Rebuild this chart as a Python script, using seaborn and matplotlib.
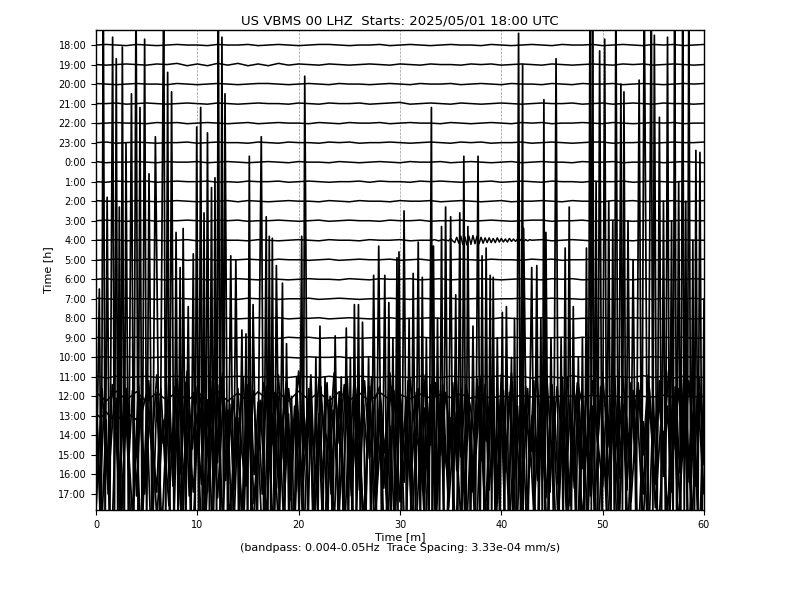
import numpy as np
import pandas as pd
import matplotlib
matplotlib.use("Agg")
import matplotlib.pyplot as plt
import seaborn as sns

# --- data ---
HOUR_LABELS = ["18:00", "19:00", "20:00", "21:00", "22:00", "23:00",
               "0:00", "1:00", "2:00", "3:00", "4:00", "5:00", "6:00",
               "7:00", "8:00", "9:00", "10:00", "11:00", "12:00", "13:00",
               "14:00", "15:00", "16:00", "17:00"]

# quiet rows, one value per minute (0..60), unit = QUIET_UNIT trace spacing
QUIET_UNIT = 0.03
TR_1800 = [0,1,0,-1,1,0,-1,0,1,0, 0,-1,1,0,0,1,-1,0,1,0, -1,0,1,1,0,-1,0,0,1,-1, 0,1,0,-1,0,1,0,0,-1,1, 0,-1,0,1,0,-1,1,0,0,1, -1,0,1,0,-1,1,0,1,-1,0, 1]
TR_1900 = [0,-1,0,1,0,-1,1,0,2,-2, 1,-2,2,-1,2,-2,1,-2,2,-1, 1,0,-1,1,0,-1,0,1,0,-1, 1,0,-1,1,0,0,-1,1,0,1, -1,0,1,0,-1,1,0,-1,0,1, 0,-1,1,0,1,-1,0,1,0,-1, 0]
TR_2000 = [1,0,-1,0,1,0,0,-1,1,0, -1,0,1,0,-1,0,1,1,0,-1, 0,1,0,-1,1,0,0,-1,0,1, 0,-1,1,0,0,1,-1,0,1,0, -1,1,0,0,-1,1,0,-1,1,0, 0,1,-1,0,1,0,-1,0,1,0, 1]
TR_2100 = [0,0,1,-1,0,1,0,-1,0,1, 0,-1,1,0,-1,0,1,0,0,-1, 1,0,-1,1,0,0,1,-1,0,1, 2,-1,0,1,0,-1,1,0,-1,0, 1,0,-1,0,1,0,0,1,-1,0, 1,-1,0,1,0,-1,1,0,0,-1, 0]
TR_2200 = [-1,0,1,0,0,-1,1,0,1,-1, 0,1,0,-1,0,1,-1,0,1,0, 0,-1,1,0,-1,1,0,0,1,-1, 0,1,0,0,-1,1,0,-1,0,1, 0,-1,1,0,1,-1,0,0,1,0, -1,1,0,-1,0,1,0,1,-1,0, 0]
TR_2300 = [0,1,-1,0,1,0,-1,0,0,1, -1,0,1,0,0,-1,1,0,-1,1, 0,0,-1,1,0,1,-1,0,0,1, 0,-1,0,1,0,-1,1,0,1,-1, 0,0,1,-1,0,1,0,-1,0,1, 1,-1,0,0,1,-1,0,1,0,0, 1]
TR_0000 = [1,-1,0,0,1,0,-1,1,0,0, 1,-1,0,1,0,-1,0,1,0,-1, 1,0,0,-1,1,0,-1,0,1,0, -1,1,0,0,1,-1,0,1,0,-1, 0,1,-1,0,1,0,0,-1,1,0, 0,1,-1,0,0,1,-1,0,1,0, -1]
TR_0100 = [0,-1,1,0,0,1,-1,0,1,0, 0,1,-1,0,-1,1,0,0,1,-1, 0,1,0,-1,0,0,1,-1,1,0, 0,-1,1,0,1,0,-1,0,0,1, -1,0,1,0,-1,1,0,0,-1,1, 0,0,1,-1,0,1,0,-1,1,0, 0]
TR_0200 = [1,0,0,-1,1,0,-1,0,1,0, -1,0,0,1,-1,1,0,-1,0,1, 0,0,-1,1,0,-1,1,0,0,-1, 1,0,0,1,-1,0,1,0,-1,0, 1,-1,0,0,1,0,-1,1,0,0, -1,1,0,1,-1,0,0,1,-1,0, 1]
TR_0300 = [0,1,0,-1,0,1,-1,0,0,1, 0,-1,1,0,1,-1,0,0,1,0, -1,0,1,-1,0,1,0,0,-1,1, 0,0,1,-1,0,0,1,-1,0,1, 0,-1,0,1,1,-1,0,0,1,-1, 0,1,0,-1,0,1,-1,0,1,0, 0]
TR_0400 = [0,0,1,-1,0,1,0,-1,0,1, -1,0,1,0,0,-1,1,0,-1,0, 1,0,-1,1,0,0,-1,1,0,0, 1,-1,0,1,0,0,0,0,0,0, 0,0,0,0,1,-1,0,1,0,-1, 1,0,0,-1,1,0,-1,0,1,0, 0]
TR_0500 = [-1,0,1,0,-1,1,0,0,1,-1, 0,1,-1,0,0,1,0,-1,1,0, 0,-1,0,1,-1,0,1,0,0,1, -1,0,1,-1,0,0,1,0,-1,1, 0,0,-1,1,0,1,-1,0,0,1, 0,-1,1,0,0,-1,1,0,-1,0, 1]
TR_0600 = [0,1,-1,0,1,0,0,-1,1,0, 1,-1,0,0,1,0,-1,1,0,-1, 0,1,0,0,-1,1,0,-1,1,0, 0,1,-1,0,1,-1,0,0,1,0, -1,0,1,0,-1,1,0,1,-1,0, 0,1,0,-1,1,0,0,-1,0,1, 0]
TR_0700 = [1,0,-1,1,0,0,-1,0,1,0, -1,1,0,0,-1,1,0,1,-1,0, 0,1,-1,0,1,0,-1,0,0,1, 0,-1,1,0,0,1,-1,0,1,-1, 0,0,1,-1,0,1,0,0,-1,1, 0,-1,0,1,0,-1,1,0,0,1, -1]
TR_0800 = [0,-1,0,1,0,1,-1,0,0,1, 0,-1,1,0,-1,0,1,0,1,-1, 0,0,1,-1,0,1,0,-1,0,1, -1,0,0,1,0,-1,1,0,0,-1, 1,0,-1,0,1,0,1,-1,0,0, 1,-1,0,1,0,0,-1,1,0,-1, 0]
TR_0900 = [1,-1,0,0,1,-1,0,1,0,0, -1,1,0,-1,0,1,0,0,-1,1, 0,1,-1,0,0,1,-1,0,1,0, 0,-1,1,0,1,-1,0,0,1,-1, 0,1,0,-1,0,0,1,-1,1,0, -1,0,1,0,0,-1,1,0,1,-1, 0]
TR_1000 = [0,1,-1,1,0,-1,0,1,0,-1, 1,0,0,-1,1,0,-1,1,0,0, -1,1,0,0,1,-1,0,1,-1,0, 1,0,-1,0,1,0,-1,1,0,0, 1,-1,0,1,0,-1,0,1,1,-1, 0,0,1,-1,0,1,0,-1,0,1, 0]
TR_1100 = [2,-2,1,-1,0,1,-1,0,1,-1, 0,1,-1,0,1,0,-1,1,0,-1, 1,0,-1,1,-1,0,1,0,-1,1, 0,-1,1,0,-1,1,0,-1,1,0, 2,-1,1,-2,1,0,-2,2,-1,1, -2,1,0,-1,2,-1,1,-2,1,0, -1]
TR_1200 = [7,-8,9,-6,8,-9,7,-7,10,-8, 8,-7,9,-8,6,-9,8,-7,7,-8, 9,-6,7,-8,8,-7,6,-8,7,-6, 3,-4,4,-3,3,-2,4,-3,2,-3, 1,-2,2,-1,1,-2,1,0,-1,2, -1,1,-2,1,0,-1,2,-1,1,-1, 0]

# 4:00 row wave packet, 33.0 .. 43.0 min every 0.2 min (unit = QUIET_UNIT)
PACKET_0400 = [0,0,1,0,-1,0,1,0,0,-1, 3,-1,-4,5,-5,7,-7,6,-8,7, -7,8,-6,7,-6,5,-5,4,-4,4,
               -4,3,-4,4,-3,3,-3,2,-3,3, -2,2,-2,2,-1,2,-2,1,-1,1, 0]
PACKET_START, PACKET_END = 33.0, 43.0

# large rows, in trace spacings (evenly spaced over the hour)
TR_1300 = [0.1,-0.1,0.2,-0.1,0.1,-0.2,0.1,0.0,-0.2,0.1,
           1.2,-1.8,2.1,-1.4,0.6,-2.2,1.9,-1.1,2.3,-1.7,
           1.5,0.4,-2.0,1.8,-1.3,2.2,-2.1,0.9,-1.6,2.0,
           -1.9,1.3,-2.3,1.7,0.2,-1.5,2.1,-2.2,1.4,-1.0,
           2.3,-1.8,1.1,-2.0,1.9,-0.6,-1.7,2.2,-1.4,1.6,
           -2.3,2.0,-1.2,1.8,-2.1,0.8,1.5,-1.9,2.2,-1.6,
           1.3,-2.2,1.9,-0.9,-1.8,2.1,-1.5,1.7,-2.0,1.2,
           -1.4,2.3,-2.1,1.6,0.3,-1.9,2.0,-1.3,1.8,-2.2,
           1.4,-1.7,2.2,-2.0,1.1,-0.5,-1.8,2.1,-1.6,1.9,
           -2.3,1.5,-1.2,2.0,-1.9,1.7,0.6,-2.1,1.8,-1.4,
           2.2,-1.6,1.3,-2.2,1.9,-1.1,-0.4,1.7,-2.0,2.1,
           -1.5,1.2,-1.9,2.3,-1.7,1.4,-2.1,1.8,-1.3,2.0,
           -1.0]
TR_1400 = [2.1,-2.8,1.4,-3.0,2.6,0.8,-2.4,2.9,-1.7,2.3,
           -3.1,1.9,-2.2,2.8,-0.6,-2.9,2.4,-1.5,3.0,-2.6,
           1.2,-2.0,2.7,-3.1,2.2,0.5,-2.5,1.8,-2.9,2.6,
           -1.4,3.0,-2.3,1.6,-2.8,2.4,-0.9,-2.6,2.9,-2.0,
           1.7,-3.0,2.5,-1.8,2.2,-2.7,0.7,2.8,-2.4,1.5,
           -2.9,2.3,-1.6,3.1,-2.5,1.1,-2.2,2.7,-3.0,2.0,
           0.4,-2.6,2.9,-1.9,2.4,-2.8,1.6,-1.2,3.0,-2.3,
           2.1,-2.7,0.9,2.5,-3.1,1.8,-2.4,2.8,-1.5,2.2,
           -2.9,1.4,-2.1,3.0,-2.6,2.3,-0.8,-2.5,2.7,-1.8,
           2.4,-3.0,1.7,-2.2,2.9,-1.3,2.6,-2.8,0.6,-2.4,
           3.1,-1.9,2.2,-2.7,1.5,-3.0,2.5,-1.6,2.8,-2.3,
           1.0,2.4,-2.9,1.9,-2.5,3.0,-2.0,1.3,-2.7,2.6,
           -1.7,2.9,-3.1,2.1,-0.7,-2.6,2.4,-1.8,3.0,-2.2,
           1.6,-2.8,2.7,-1.4,2.3,-3.0,1.9,0.4,-2.5,2.8,
           -2.1,1.5,-2.9,2.5,-1.9,3.1,-2.4,1.2,-2.6,2.2,
           -1.5]
TR_1500 = [-2.8,3.4,-1.6,3.0,-3.5,2.2,-3.1,3.6,-2.0,2.9, -3.3,1.8,-2.6,3.5,-3.0,2.4,-1.9,3.2,-3.6,2.6,
           -2.2,3.3,-3.4,1.9,-2.9,3.6,-2.5,2.8,-3.2,2.1, -3.6,3.0,-2.3,3.4,-1.7,2.7,-3.3,3.5,-2.6,2.3,
           -3.0,3.6,-2.1,2.6,-3.5,3.1,-2.8,1.8,-3.4,3.3, -2.4,2.9,-3.6,3.4,-2.0,2.5,-3.1,3.6,-2.7,2.2,
           -3.3,3.0,-1.9,3.5,-3.2,2.8,-2.5,3.3,-3.6,2.0, -2.9,3.4,-3.0,2.4,-2.2,3.6,-3.4,2.7,-2.6,3.1,
           -3.5,2.3,-2.8,3.5,-2.1,2.9,-3.3,3.2,-2.4,2.6, -3.6,3.4,-2.7,2.1,-3.0,3.5,-2.3,2.8,-3.4,3.0,
           -2.0]
TR_1600 = [4.2,-3.6,2.8,-4.5,3.9,-2.7,4.4,-4.0,1.9,-3.8,
           3.5,-4.4,4.1,-2.9,3.0,-4.6,2.6,-3.3,4.5,-3.9,
           2.2,-4.1,3.8,-3.0,4.6,-2.5,3.3,-4.3,2.9,-3.7,
           4.3,-2.8,1.6,-4.5,3.6,-3.4,4.0,-2.3,3.1,-4.2,
           2.7,-3.9,4.4,-3.1,2.4,-4.6,3.7,-2.6,4.2,-3.5,
           3.0,-4.3,2.1,-3.6,4.5,-3.0,3.4,-4.4,2.5,-2.9,
           4.1,-3.8,3.2,-4.1,1.8,-3.3,4.6,-2.7,3.6,-4.5,
           2.9,-3.5,4.0,-3.9,2.3,-4.2,3.9,-3.1,4.4,-2.4,
           3.3,-4.6,2.6,-3.7,4.2,-2.8,3.0,-4.3,3.8,-3.2,
           1.7,-4.0,4.5,-3.4,2.8,-3.6,4.1,-2.5,3.5,-4.4,
           2.4,-3.1,3.9,-4.5,3.2,-2.9,4.3,-3.8,2.7,-4.1,
           4.0,-3.3,2.2,-4.2,3.7,-3.0,4.4,-3.6,3.1,-3.9,
           3.4]

# 17:00 row: (minute, trace spacings) for its peaks and troughs
TR_1700 = [
    (0.0,-1.0),(0.33,10.5),(0.52,-3.0),(0.72,26),(0.9,-2.5),(1.1,15.2),(1.35,-3.5),(1.64,23.4),
    (1.82,-2.0),(2.0,22.3),(2.15,-3.0),(2.3,14.7),(2.45,-2.0),(2.6,22.9),(2.78,-3.5),(2.96,18.0),
    (3.2,-2.5),(3.5,20.5),(3.72,-3.0),(3.95,26),(4.15,-2.0),(4.34,19.8),(4.55,-3.0),(4.8,23.3),
    (5.0,-2.5),(5.23,16.4),(5.55,-3.5),(5.86,18.3),(6.3,-2.0),(6.68,26),(6.88,-3.0),(7.07,21.6),
    (7.25,-2.5),(7.46,20.6),(7.7,-3.5),(7.9,13.4),(8.1,-2.0),(8.3,11.6),(8.45,-3.0),(8.6,13.6),
    (8.85,-2.5),(9.1,9.6),(9.35,-3.0),(9.6,12.3),(9.78,-2.0),(9.94,18.8),(10.14,-3.5),(10.33,19.8),
    (10.5,-2.5),(10.66,14.4),(10.83,-3.0),(11.0,18.5),(11.2,-2.0),(11.4,15.7),(11.57,-3.0),(11.74,16.2),
    (11.9,-2.5),(12.07,26),(12.25,-3.5),(12.43,23.4),(12.58,-2.0),(12.73,20.5),(13.0,-3.0),(13.3,12.2),
    (13.55,-2.5),(13.8,12.0),(14.1,-3.0),(14.4,8.4),(14.6,-2.0),(14.8,8.2),(14.97,-3.5),(15.13,17.3),
    (15.3,-2.5),(15.5,9.7),(15.9,-3.0),(16.31,18.3),(16.55,-2.0),(16.8,14.2),(16.95,-3.0),(17.1,13.2),
    (17.25,-2.5),(17.4,13.1),(17.6,-3.5),(17.8,11.7),(18.1,-2.0),(18.4,10.8),(18.6,-3.0),(18.8,7.7),
    (19.05,-2.5),(19.3,5.0),(19.55,-3.0),(19.8,6.0),(20.05,-2.0),(20.3,13.2),(20.45,-3.0),(20.6,21.4),
    (20.9,-2.5),(21.2,5.0),(21.45,-3.5),(21.7,7.0),(21.9,-2.0),(22.1,8.6),(22.35,-3.0),(22.6,6.0),
    (22.85,-2.5),(23.1,5.0),(23.35,-3.0),(23.6,8.1),(23.9,-2.0),(24.2,6.0),(24.45,-3.0),(24.7,8.5),
    (24.9,-2.5),(25.1,7.0),(25.3,-3.5),(25.5,9.7),(25.7,-2.0),(25.9,9.7),(26.1,-3.0),(26.3,8.8),
    (26.6,-2.5),(26.9,7.0),(27.15,-3.0),(27.4,11.2),(27.65,-2.0),(27.9,12.7),(28.2,-3.0),(28.5,11.2),
    (28.7,-2.5),(28.9,9.8),(29.1,-3.5),(29.3,8.0),(29.5,-2.0),(29.7,12.1),(29.8,-1.0),(29.9,12.4),
    (30.15,-3.0),(30.4,14.5),(30.65,-2.5),(30.9,9.0),(31.1,-3.0),(31.3,11.3),(31.55,-2.0),(31.8,12.9),
    (32.0,-3.0),(32.2,11.1),(32.4,-2.5),(32.6,8.0),(32.85,-3.5),(33.1,19.8),(33.2,-1.0),(33.3,12.7),
    (33.5,-3.0),(33.7,9.0),(33.9,-2.0),(34.1,13.7),(34.3,-3.0),(34.5,14.7),(34.75,-2.5),(35.0,14.2),
    (35.25,-3.0),(35.5,10.2),(35.7,-2.0),(35.9,14.4),(36.1,-3.5),(36.3,17.3),(36.5,-2.5),(36.7,13.7),
    (36.95,-3.0),(37.2,8.6),(37.45,-2.0),(37.7,17.3),(37.9,-3.0),(38.1,12.2),(38.3,-2.5),(38.5,12.6),
    (38.7,-3.0),(38.9,11.2),(39.05,-2.0),(39.2,11.1),(39.4,-3.5),(39.6,8.0),(39.85,-2.5),(40.1,9.3),
    (40.3,-3.0),(40.5,9.6),(40.75,-2.0),(41.0,7.0),(41.15,-3.0),(41.3,9.0),(41.5,-2.5),(41.7,23.6),
    (41.9,-3.5),(42.1,22.0),(42.15,-1.0),(42.2,13.6),(42.6,-3.0),(43.0,11.6),(43.25,-2.0),(43.5,11.7),
    (43.7,-3.0),(43.9,9.0),(44.05,-2.5),(44.2,20.2),(44.3,-1.5),(44.4,13.4),(44.65,-3.0),(44.9,8.0),
    (45.15,-2.0),(45.4,22.3),(45.65,-3.5),(45.9,8.0),(46.1,-2.5),(46.3,12.6),(46.5,-3.0),(46.7,14.7),
    (46.9,-2.0),(47.1,9.6),(47.35,-3.0),(47.6,7.0),(47.8,-2.5),(48.0,8.0),(48.2,-3.0),(48.4,12.6),
    (48.58,-2.0),(48.75,26),(48.88,-1.0),(49.0,26),(49.18,-3.0),(49.35,16.0),(49.52,-2.5),(49.7,22.7),
    (49.95,-3.0),(50.2,23.3),(50.4,-2.0),(50.6,15.0),(50.8,-3.0),(51.0,14.0),(51.15,-2.5),(51.3,26),
    (51.55,-3.5),(51.8,21.0),(51.95,-1.5),(52.1,20.6),(52.3,-3.0),(52.5,14.0),(52.75,-2.0),(53.0,12.0),
    (53.3,-3.0),(53.6,21.2),(53.85,-2.5),(54.1,26),(54.45,-3.0),(54.8,26),(54.95,-2.0),(55.1,23.5),
    (55.35,-3.5),(55.6,19.3),(55.8,-2.5),(56.0,15.0),(56.2,-3.0),(56.4,23.4),(56.6,-2.0),(56.8,14.0),
    (56.95,-3.0),(57.1,26),(57.3,-2.5),(57.5,16.0),(57.7,-3.0),(57.9,26),(58.05,-2.0),(58.2,15.0),
    (58.35,-3.5),(58.5,26),(58.7,-2.5),(58.9,13.0),(59.05,-3.0),(59.2,17.6),(59.4,-2.0),(59.6,17.5),
    (59.8,-3.0),(60.0,10.0),
]

QUIET_ROWS = [TR_1800, TR_1900, TR_2000, TR_2100, TR_2200, TR_2300, TR_0000, TR_0100,
              TR_0200, TR_0300, TR_0400, TR_0500, TR_0600, TR_0700, TR_0800, TR_0900,
              TR_1000, TR_1100, TR_1200]
LARGE_ROWS = [TR_1300, TR_1400, TR_1500, TR_1600]

n_rows = len(HOUR_LABELS)

# --- build long-form frames ---
quiet_frames = []
for i, vals in enumerate(QUIET_ROWS):
    t = np.linspace(0, 60, len(vals))
    v = np.array(vals, dtype=float) * QUIET_UNIT
    if HOUR_LABELS[i] == "4:00":
        keep_a = t < PACKET_START
        keep_b = t > PACKET_END
        pt = np.linspace(PACKET_START, PACKET_END, len(PACKET_0400))
        pv = np.array(PACKET_0400, dtype=float) * QUIET_UNIT
        t = np.concatenate([t[keep_a], pt, t[keep_b]])
        v = np.concatenate([v[keep_a], pv, v[keep_b]])
    quiet_frames.append(pd.DataFrame({"minute": t, "y": (n_rows - 1 - i) + v, "row": i}))

large_frames = []
for k, vals in enumerate(LARGE_ROWS):
    i = len(QUIET_ROWS) + k
    t = np.linspace(0, 60, len(vals))
    large_frames.append(pd.DataFrame({"minute": t, "y": (n_rows - 1 - i) + np.array(vals), "row": i}))

t17, v17 = zip(*TR_1700)
large_frames.append(pd.DataFrame({"minute": t17, "y": np.array(v17), "row": n_rows - 1}))

df_quiet = pd.concat(quiet_frames, ignore_index=True)
df_large = pd.concat(large_frames, ignore_index=True)

# --- plot ---
sns.set_theme(style="ticks", rc={"text.color": "black", "axes.labelcolor": "black",
                                 "xtick.color": "black", "ytick.color": "black",
                                 "axes.edgecolor": "black"})
plt.rcParams["font.family"] = ["DejaVu Sans"]

fig = plt.figure(figsize=(8, 6), dpi=100)
ax = fig.add_axes([0.12, 0.15, 0.76, 0.80])

sns.lineplot(data=df_quiet, x="minute", y="y", units="row", estimator=None, sort=False,
             color="black", linewidth=1.1, legend=False, ax=ax)
sns.lineplot(data=df_large, x="minute", y="y", units="row", estimator=None, sort=False,
             color="black", linewidth=1.25, legend=False, ax=ax)

ax.set_xlim(0, 60)
ax.set_ylim(-0.82, n_rows - 1 + 0.77)
ax.set_xticks(range(0, 61, 10))
ax.set_yticks([n_rows - 1 - i for i in range(n_rows)])
ax.set_yticklabels(HOUR_LABELS)
ax.tick_params(axis="both", labelsize=7, direction="out", length=3.5, width=0.8)
ax.xaxis.grid(True, linestyle="--", color="0.6", linewidth=0.5)
ax.set_axisbelow(True)
for sp in ax.spines.values():
    sp.set_linewidth(1.0)

ax.set_xlabel("Time [m]\n(bandpass: 0.004-0.05Hz  Trace Spacing: 3.33e-04 mm/s)",
              fontsize=8, labelpad=2, linespacing=1.1)
ax.set_ylabel("Time [h]", fontsize=8)
ax.set_title("US VBMS 00 LHZ  Starts: 2025/05/01 18:00 UTC", fontsize=9.5, pad=4)

fig.savefig("out.png", dpi=100)
